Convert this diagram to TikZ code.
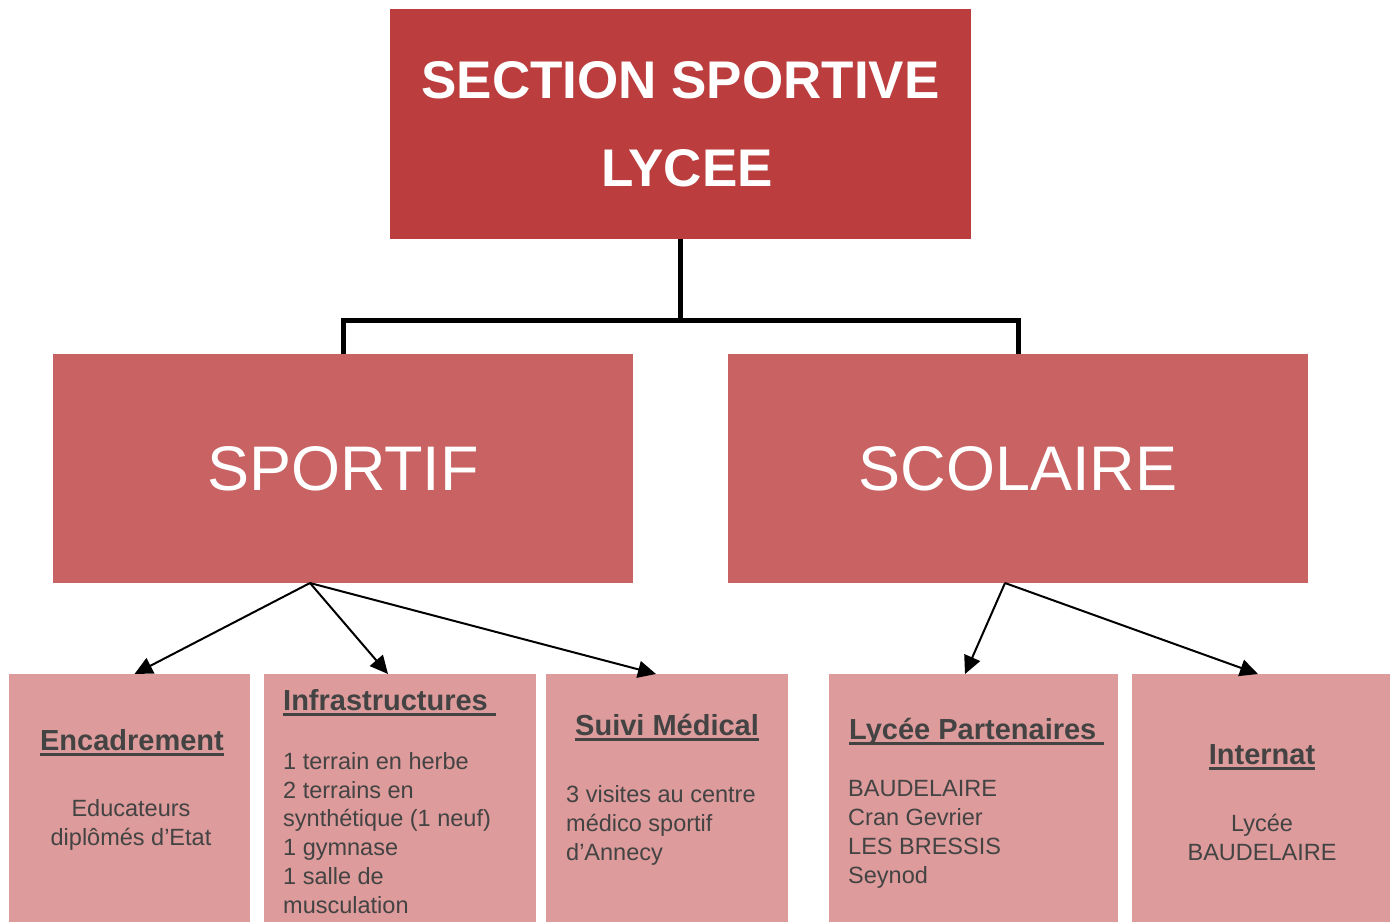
\documentclass[tikz,border=0pt]{standalone}
\usepackage{fontspec}
\setmainfont{Liberation Sans}
\usetikzlibrary{arrows.meta}
\definecolor{rougeFonce}{HTML}{BC3D3E}
\definecolor{rougeMoyen}{HTML}{C96363}
\definecolor{rosePale}{HTML}{DD9B9B}
\definecolor{texteGris}{HTML}{434343}
\newsavebox\soulbox
\newcommand{\souligne}[1]{\sbox\soulbox{#1}\rlap{\rule[-6pt]{\wd\soulbox}{2.6pt}}\usebox\soulbox}
\begin{document}
\begin{tikzpicture}[x=1pt,y=-1pt,
	boite/.style={inner sep=0pt,outer sep=0pt,anchor=north west},
	grande/.style={boite,fill=rougeMoyen,minimum width=580pt,minimum height=229pt,text=white,font=\fontsize{63}{70}\selectfont},
	petite/.style={boite,fill=rosePale,minimum height=248pt},
	titre/.style={inner sep=0pt,text=texteGris,font=\fontsize{29}{34}\selectfont\bfseries},
	corps/.style={inner sep=0pt,text=texteGris,font=\fontsize{23.5}{28.7}\selectfont},
	coude/.style={line width=5pt},
	fleche/.style={line width=2pt,-{Triangle[length=18pt,width=17pt]}}]
\useasboundingbox (0,0) rectangle (1394,922);
\node[boite,fill=rougeFonce,minimum width=581pt,minimum height=230pt,text=white,align=center,
	font=\fontsize{53}{88}\selectfont\bfseries] (lycee) at (390,9) {SECTION SPORTIVE\\\hspace*{13pt}LYCEE};
\node[grande] (sportif) at (53,354) {SPORTIF};
\node[grande] (scolaire) at (728,354) {SCOLAIRE};
\foreach \nom/\x/\w in {enc/9/241,inf/264/272,med/546/242,par/829/289,int/1132/258}
	\node[petite,minimum width=\w pt] (\nom) at (\x,674) {};
\draw [coude] (lycee.south) -- ++(0,81) -| (sportif.north);
\draw [coude] (lycee.south) -- ++(0,81) -| (scolaire.north);
\foreach \cible/\dx in {enc/5,inf/-12,med/-11}
	\draw [fleche] ([xshift=-33pt]sportif.south) -- ([xshift=\dx pt]\cible.north);
\foreach \cible/\dx in {par/-8.5,int/-3}
	\draw [fleche] ([xshift=-13pt]scolaire.south) -- ([xshift=\dx pt]\cible.north);
% textes des cases du bas (base = derniere ligne)
\node[titre,anchor=base] (encT) at (132,750) {\souligne{Encadrement}};
\node[corps,align=center,anchor=base] (encC) at (131,845) {Educateurs\\diplômés d’Etat};
\node[titre,anchor=base west] (infT) at (283,710) {\souligne{Infrastructures\ }};
\node[corps,align=left,anchor=base west] (infC) at (283,913) {1 terrain en herbe\\2 terrains en\\synthétique (1 neuf)\\1 gymnase\\1 salle de\\musculation};
\node[titre,anchor=base west] (medT) at (575,735) {\souligne{Suivi Médical}};
\node[corps,align=left,anchor=base west] (medC) at (566,860) {3 visites au centre\\médico sportif\\d’Annecy};
\node[titre,anchor=base west] (parT) at (849,739) {\souligne{Lycée Partenaires\ }};
\node[corps,align=left,anchor=base west] (parC) at (848,883) {BAUDELAIRE\\Cran Gevrier\\LES BRESSIS\\Seynod};
\node[titre,anchor=base] (intT) at (1262,764) {\souligne{Internat}};
\node[corps,align=center,anchor=base] (intC) at (1262,860) {Lycée\\BAUDELAIRE};
\end{tikzpicture}
\end{document}
